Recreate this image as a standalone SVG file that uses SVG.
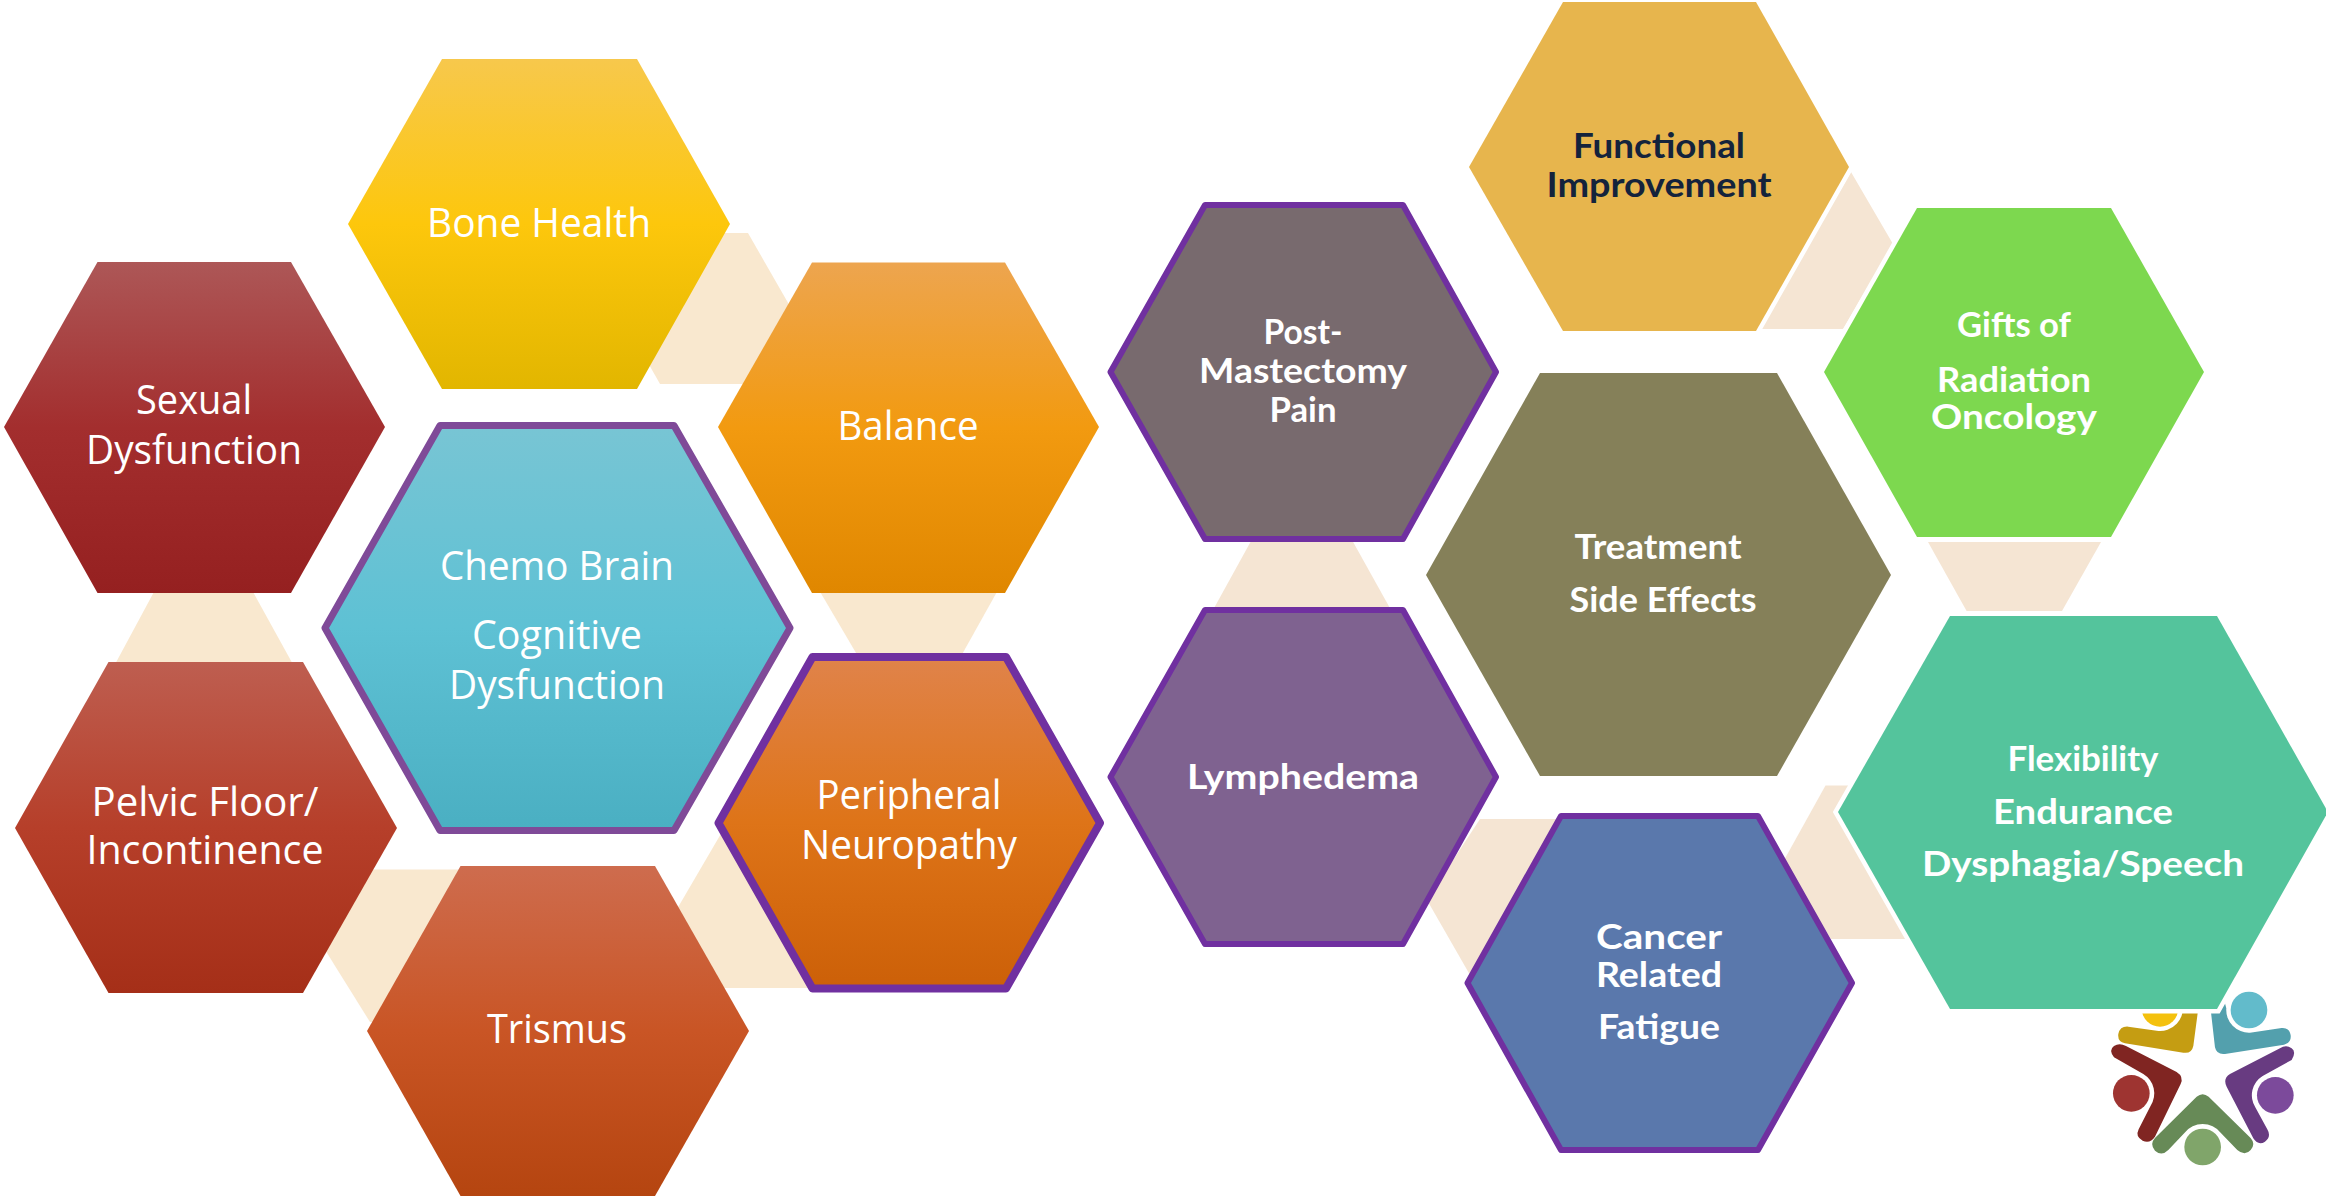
<svg xmlns="http://www.w3.org/2000/svg" width="2326" height="1196" viewBox="0 0 2326 1196">
<style>
.l{font-family:"Open Sans","Liberation Sans",sans-serif;font-size:40px;fill:#fff;text-anchor:middle}
.r{font-family:Lato,"Liberation Sans",sans-serif;font-size:35px;font-weight:700;fill:#fff;text-anchor:middle}
.dark{fill:#14233C}
.cl{fill:#F9E8CF}
.cr{fill:#F5E5D3}
.b{stroke:#7030A0;stroke-linejoin:round;stroke-width:6}
.w{stroke:#fff;stroke-width:9;paint-order:stroke;stroke-linejoin:miter}
</style>
<defs>
<linearGradient id="gBone" x1="0" y1="0" x2="0" y2="1"><stop offset="0" stop-color="#F7C84C"/><stop offset=".5" stop-color="#FDC70C"/><stop offset="1" stop-color="#E2B600"/></linearGradient>
<linearGradient id="gSex" x1="0" y1="0" x2="0" y2="1"><stop offset="0" stop-color="#AD5757"/><stop offset=".5" stop-color="#A32E2E"/><stop offset="1" stop-color="#952020"/></linearGradient>
<linearGradient id="gBal" x1="0" y1="0" x2="0" y2="1"><stop offset="0" stop-color="#EDA54F"/><stop offset=".5" stop-color="#F29A10"/><stop offset="1" stop-color="#E08700"/></linearGradient>
<linearGradient id="gChe" x1="0" y1="0" x2="0" y2="1"><stop offset="0" stop-color="#78C5D4"/><stop offset=".5" stop-color="#5EC1D4"/><stop offset="1" stop-color="#4AAFC2"/></linearGradient>
<linearGradient id="gPer" x1="0" y1="0" x2="0" y2="1"><stop offset="0" stop-color="#E0834A"/><stop offset=".5" stop-color="#DE7418"/><stop offset="1" stop-color="#CC6008"/></linearGradient>
<linearGradient id="gPel" x1="0" y1="0" x2="0" y2="1"><stop offset="0" stop-color="#BE5E50"/><stop offset=".5" stop-color="#B63F2A"/><stop offset="1" stop-color="#A52F18"/></linearGradient>
<linearGradient id="gTri" x1="0" y1="0" x2="0" y2="1"><stop offset="0" stop-color="#CE6C4E"/><stop offset=".5" stop-color="#C95525"/><stop offset="1" stop-color="#B54510"/></linearGradient>
</defs>
<g id="connectors">
<polygon class="cl" points="660,233 748,233 791,308 748,384 660,384 617,308"/>
<polygon class="cl" points="155,590 252,590 295,668 113,668"/>
<polygon class="cl" points="819,590 998,590 960,658 859,658"/>
<polygon class="cl" points="365,869.500 470,869.500 470,1022 370,1022 322,945"/>
<polygon class="cl" points="722,832 820,832 820,988 722,988 677,909"/>
<polygon class="cr" points="1851,172 1893,244 1843,329 1760,329 1800,260"/>
<polygon class="cr" points="1928,542 2101,542 2062,611 1966.600,611"/>
<polygon class="cr" points="1251.600,540 1352,540 1391,610 1213,610"/>
<polygon class="cr" points="1480,819 1570,819 1570,975 1470,975 1427,900"/>
<polygon class="cr" points="1825.500,785.500 1915,785.500 1915,939 1831,939 1783,862"/>
</g>
<g id="logo" transform="translate(1980 940) scale(.3333)">
<circle cx="540" cy="205" r="55" fill="#F4C10E"/>
<circle cx="807" cy="210" r="55" fill="#62BBCB"/>
<circle cx="454" cy="460" r="55" fill="#9E3431"/>
<circle cx="886" cy="466" r="55" fill="#7C4A9B"/>
<circle cx="668" cy="621" r="55" fill="#80A56A"/>
<path fill="#C59D12" d="M657 190L640 318Q635 342 610 338L435 310Q412 305 415 282Q420 258 445 260L530 272A68 68 0 0 0 607 190Z"/>
<path fill="#53A0AD" d="M735 190L690 190L705 322Q710 345 735 342L912 314Q935 308 932 285Q928 262 905 264L810 278A68 68 0 0 1 739 205Z"/>
<path fill="#802522" d="M402 352Q385 330 402 318Q418 307 438 318L590 396Q612 410 602 432L525 590Q510 612 488 602Q465 590 476 568L512 497A68 68 0 0 0 490 402Z"/>
<path fill="#683B81" d="M935 360Q950 335 935 325Q918 312 900 325L750 402Q728 415 740 440L820 595Q835 618 855 605Q875 590 862 568L826 502A68 68 0 0 1 848 408Z"/>
<path fill="#678A57" d="M650 470Q668 455 686 470L812 594Q828 612 812 630Q795 650 772 630L722 578A69 69 0 0 0 614 578L565 630Q545 650 525 632Q508 612 525 594Z"/>
</g>
<g id="bone-health"><polygon fill="url(#gBone)" points="442,59 637,59 730,224 637,389 442,389 348,224"/><text class="l" x="539" y="237" textLength="224" lengthAdjust="spacingAndGlyphs">Bone Health</text></g>
<g id="sexual-dysfunction"><polygon fill="url(#gSex)" points="97.500,262 291,262 385,427 291,593 97.500,593 4,427"/><text class="l" x="194" y="414" textLength="116" lengthAdjust="spacingAndGlyphs">Sexual</text><text class="l" x="194" y="464" textLength="216" lengthAdjust="spacingAndGlyphs">Dysfunction</text></g>
<g id="balance"><polygon fill="url(#gBal)" points="812,262.500 1005,262.500 1099,427 1005,593 812,593 718,427"/><text class="l" x="908" y="440" textLength="141" lengthAdjust="spacingAndGlyphs">Balance</text></g>
<g id="chemo-brain"><polygon fill="url(#gChe)" stroke="#7F4A98" stroke-width="7" stroke-linejoin="round" points="440,425.500 674,425.500 790,628 674,830.500 440,830.500 325,628"/><text class="l" x="557" y="580" textLength="234" lengthAdjust="spacingAndGlyphs">Chemo Brain</text><text class="l" x="557" y="649" textLength="170" lengthAdjust="spacingAndGlyphs">Cognitive</text><text class="l" x="557" y="699" textLength="216" lengthAdjust="spacingAndGlyphs">Dysfunction</text></g>
<g id="peripheral-neuropathy"><polygon fill="url(#gPer)" stroke="#7030A0" stroke-width="8" stroke-linejoin="round" points="812.500,657 1006,657 1100,823 1006,988.500 812.500,988.500 718.500,823"/><text class="l" x="909" y="809" textLength="185" lengthAdjust="spacingAndGlyphs">Peripheral</text><text class="l" x="909" y="859" textLength="216" lengthAdjust="spacingAndGlyphs">Neuropathy</text></g>
<g id="pelvic-floor"><polygon fill="url(#gPel)" points="108.500,662 303,662 397,828 303,993 108.500,993 15,828"/><text class="l" x="205" y="816" textLength="227" lengthAdjust="spacingAndGlyphs">Pelvic Floor/</text><text class="l" x="205" y="864" textLength="237" lengthAdjust="spacingAndGlyphs">Incontinence</text></g>
<g id="trismus"><polygon fill="url(#gTri)" points="460.500,866 655,866 749,1031 655,1196 460.500,1196 367,1031"/><text class="l" x="557" y="1043" textLength="140" lengthAdjust="spacingAndGlyphs">Trismus</text></g>
<g id="functional-improvement"><polygon class="w" fill="#E7B54D" points="1563,2 1756,2 1849,167 1756,331 1563,331 1469,167"/><text class="r dark" x="1659" y="158" textLength="172" lengthAdjust="spacingAndGlyphs">Functional</text><text class="r dark" x="1659" y="197" textLength="225" lengthAdjust="spacingAndGlyphs">Improvement</text></g>
<g id="post-mastectomy-pain"><polygon class="b" fill="#786A6E" points="1205,205 1403,205 1496,372 1403,539 1205,539 1110.500,372"/><text class="r" x="1303" y="344" textLength="79" lengthAdjust="spacingAndGlyphs">Post-</text><text class="r" x="1303" y="383" textLength="208" lengthAdjust="spacingAndGlyphs">Mastectomy</text><text class="r" x="1303" y="422" textLength="67" lengthAdjust="spacingAndGlyphs">Pain</text></g>
<g id="treatment-side-effects"><polygon fill="#858059" points="1540,373 1777,373 1891,575 1777,776 1540,776 1426,575"/><text class="r" x="1658" y="559" textLength="167" lengthAdjust="spacingAndGlyphs">Treatment</text><text class="r" x="1663" y="612" textLength="187" lengthAdjust="spacingAndGlyphs">Side Effects</text></g>
<g id="gifts-of-radiation-oncology"><polygon class="w" fill="#7DD84F" points="1917,208 2111,208 2204,372 2111,537 1917,537 1824,372"/><text class="r" x="2014" y="337" textLength="114" lengthAdjust="spacingAndGlyphs">Gifts of</text><text class="r" x="2014" y="392" textLength="154" lengthAdjust="spacingAndGlyphs">Radiation</text><text class="r" x="2014" y="429" textLength="166" lengthAdjust="spacingAndGlyphs">Oncology</text></g>
<g id="lymphedema"><polygon class="b" fill="#7F6290" points="1205,610 1403,610 1496,777 1403,944 1205,944 1110.500,777"/><text class="r" x="1303" y="789" textLength="232" lengthAdjust="spacingAndGlyphs">Lymphedema</text></g>
<g id="cancer-related-fatigue"><polygon class="b" fill="#5A78AC" points="1561,816 1758,816 1852,983 1758,1150 1561,1150 1467.500,983"/><text class="r" x="1659" y="949" textLength="126" lengthAdjust="spacingAndGlyphs">Cancer</text><text class="r" x="1659" y="987" textLength="126" lengthAdjust="spacingAndGlyphs">Related</text><text class="r" x="1659" y="1039" textLength="122" lengthAdjust="spacingAndGlyphs">Fatigue</text></g>
<g id="flexibility-endurance-dysphagia"><polygon class="w" fill="#54C49C" points="1950,616 2217,616 2328,812 2217,1009 1950,1009 1838,812"/><text class="r" x="2083" y="771" textLength="151" lengthAdjust="spacingAndGlyphs">Flexibility</text><text class="r" x="2083" y="824" textLength="180" lengthAdjust="spacingAndGlyphs">Endurance</text><text class="r" x="2083" y="876" textLength="322" lengthAdjust="spacingAndGlyphs">Dysphagia/Speech</text></g>
</svg>
